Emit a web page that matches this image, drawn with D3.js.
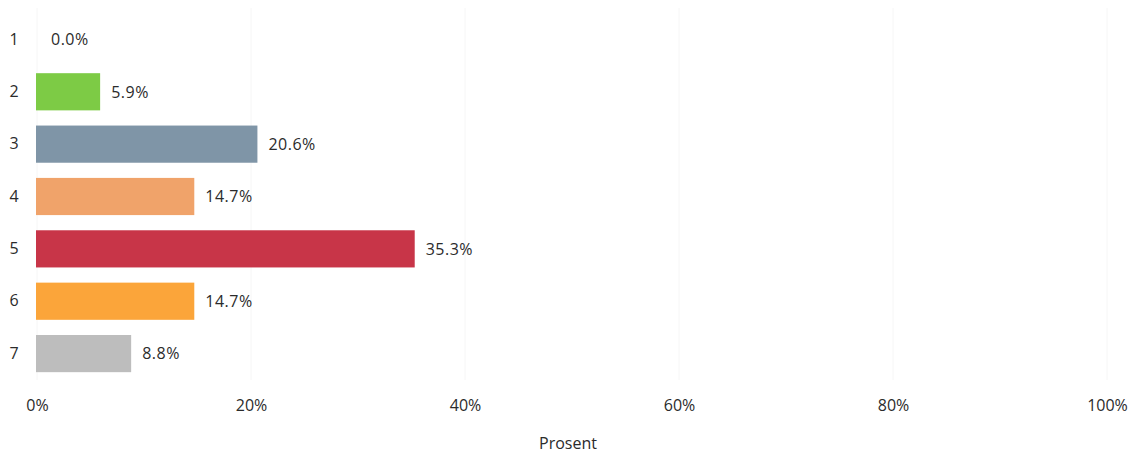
<!DOCTYPE html>
<html>
<head>
<meta charset="utf-8">
<script src="https://cdn.jsdelivr.net/npm/d3@7/dist/d3.min.js"></script>
<style>
  html, body { margin: 0; padding: 0; background: #fff; }
  svg text { font-family: "Open Sans", "DejaVu Sans", sans-serif; fill: #2b2b2b; }
</style>
</head>
<body>
<svg id="chart" width="1129" height="454"></svg>
<script>
// Response categories and the share of answers in each (percent)
const categories = ["1", "2", "3", "4", "5", "6", "7"];
const values = [0.0, 5.9, 20.6, 14.7, 35.3, 14.7, 8.8];
const barColors = ["#8fbf5a", "#7dcb45", "#7f95a7", "#f0a36a", "#c83548", "#fba53a", "#bdbdbd"];
const tickValues = [0, 20, 40, 60, 80, 100];
const axisTitle = "Prosent";

const svg = d3.select("#chart");
const W = 1129;
const FS = 16;

const x = d3.scaleLinear().domain([0, 100]).range([37, W - 22]);
const y = d3.scaleBand().domain(categories)
  .range([13.5, 379.5])
  .paddingInner(0.29).paddingOuter(0.14);

// faint vertical gridlines
svg.append("g")
  .selectAll("line")
  .data(tickValues)
  .join("line")
  .attr("x1", d => x(d)).attr("x2", d => x(d))
  .attr("y1", 8).attr("y2", 380)
  .attr("stroke", "#f6f6f6")
  .attr("stroke-width", 1);

// bars
svg.append("g")
  .selectAll("rect")
  .data(values)
  .join("rect")
  .attr("x", x(0) - 1)
  .attr("y", (d, i) => y(categories[i]))
  .attr("width", d => x(d) - x(0) + 1)
  .attr("height", y.bandwidth())
  .attr("fill", (d, i) => barColors[i])
  .attr("display", d => d > 0 ? null : "none");

// value labels
svg.append("g")
  .selectAll("text")
  .data(values)
  .join("text")
  .attr("x", d => x(d) + (d > 0 ? 11 : 14))
  .attr("y", (d, i) => y(categories[i]) + y.bandwidth() / 2)
  .attr("dy", "0.36em")
  .attr("font-size", FS)
  .attr("letter-spacing", 0.5)
  .text(d => d.toFixed(1) + "%");

// category axis
const yAxis = d3.axisLeft(y).tickSize(0).tickPadding(0);
const gy = svg.append("g").attr("transform", `translate(18,0)`).call(yAxis);
gy.select(".domain").remove();
gy.selectAll("text").attr("font-size", FS).attr("text-anchor", "middle").attr("x", -4);

// value axis
const xAxis = d3.axisBottom(x).tickValues(tickValues).tickSize(0).tickPadding(0)
  .tickFormat(d => d + "%");
const gx = svg.append("g").attr("transform", `translate(0,400)`).call(xAxis);
gx.select(".domain").remove();
gx.selectAll("text").attr("font-size", FS);

svg.append("text")
  .attr("x", 568).attr("y", 449)
  .attr("text-anchor", "middle")
  .attr("font-size", FS)
  .text(axisTitle);
</script>
</body>
</html>
